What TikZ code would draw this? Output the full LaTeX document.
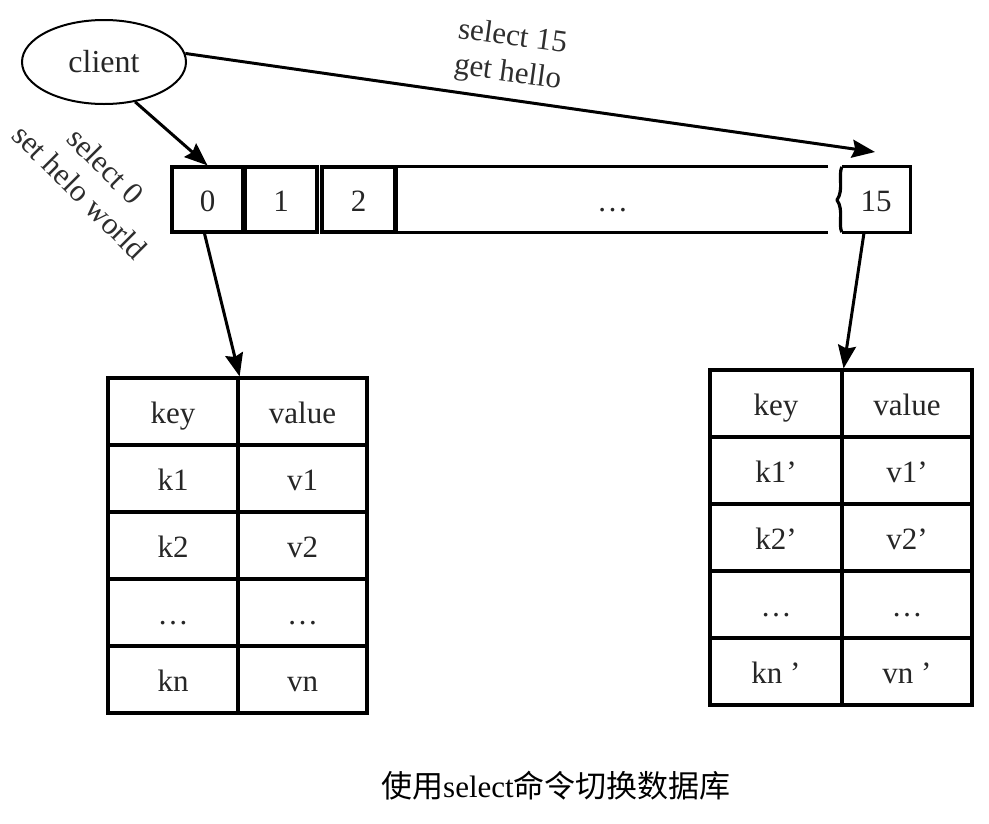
\documentclass[tikz,border=0pt]{standalone}
\usepackage{fontspec}
\setmainfont{Liberation Serif}
\newfontfamily\cjk{Noto Sans CJK SC}
\usetikzlibrary{shapes.geometric,arrows.meta}
\begin{document}
\begin{tikzpicture}[x=1pt,y=-1pt,
  lbl/.style={font=\fontsize{31}{36}\selectfont, text=black!82, align=center, inner sep=0pt},
  txt/.style={inner sep=0pt, font=\fontsize{31}{36}\selectfont, text=black!85, text height=27pt, text depth=3pt},
  cell/.style={txt, draw, line width=3.2pt},
  edgeline/.style={line width=3.2pt},
  arr/.style={line width=3pt, -{Stealth[length=23pt,width=18pt,inset=3pt]}},
]
\useasboundingbox (0,0) rectangle (989,823);

% client
\node[draw, ellipse, line width=2pt, minimum width=164pt, minimum height=84pt,
      font=\fontsize{32}{36}\selectfont, text=black!85] (client) at (104,62) {client};

% array of databases
\node[cell, minimum width=71pt, minimum height=65pt] (c0) at (207.5,199.5) {0};
\node[cell, minimum width=72pt, minimum height=65pt] (c1) at (281,199.5) {1};
\node[cell, minimum width=73pt, minimum height=65pt] (c2) at (358.5,199.5) {2};
\node[txt, minimum width=431pt, minimum height=65pt] (cd) at (612.5,199.5) {…};
\draw[edgeline] (cd.north east) -- (cd.north west) -- (cd.south west) -- (cd.south east);
\node[txt, minimum width=68pt, minimum height=65pt] (c15) at (876,199.5) {15};
\draw[edgeline] (c15.north west) -- (c15.north east) -- (c15.south east) -- (c15.south west);
\draw[edgeline, line join=round] (c15.north west)
   .. controls (838,176) and (844,190) .. (837,200)
   .. controls (844,210) and (838,224) .. (c15.south west);

% left table
\foreach \i/\k/\v in {0/key/value,1/k1/v1,2/k2/v2,3/…/…,4/kn/vn}{
  \node[cell, minimum width=130pt, minimum height=67pt] (Lk\i) at (173,{411.5+67*\i}) {\k};
  \node[cell, minimum width=129pt, minimum height=67pt] (Lv\i) at (302.5,{411.5+67*\i}) {\v};
}
% right table
\foreach \i/\k/\v in {0/key/value,1/k1’/v1’,2/k2’/v2’,3/…/…,4/kn ’/vn ’}{
  \node[cell, minimum width=132pt, minimum height=67pt] (Rk\i) at (776,{403.5+67*\i}) {\k};
  \node[cell, minimum width=130pt, minimum height=67pt] (Rv\i) at (907,{403.5+67*\i}) {\v};
}

% connectors
\coordinate (t15) at (875,152);
\draw[arr] (client.-52) -- (c0.north);
\draw[arr] (client.6) -- (t15);
\draw[arr] (c0.265) -- (Lk0.north east);
\draw[arr] (c15.250) -- (Rk0.north east);

% labels
\node[lbl, rotate=-45] (l0) at (93,179) {select 0\\set helo world};
\node[lbl, rotate=-7.8] (l15) at (510,56) {select 15\\get hello};

% caption
\node[font=\fontsize{31}{36}\selectfont, inner sep=0pt] (cap) at (556,786)
  {{\cjk 使用}select{\cjk 命令切换数据库}};
\end{tikzpicture}
\end{document}
